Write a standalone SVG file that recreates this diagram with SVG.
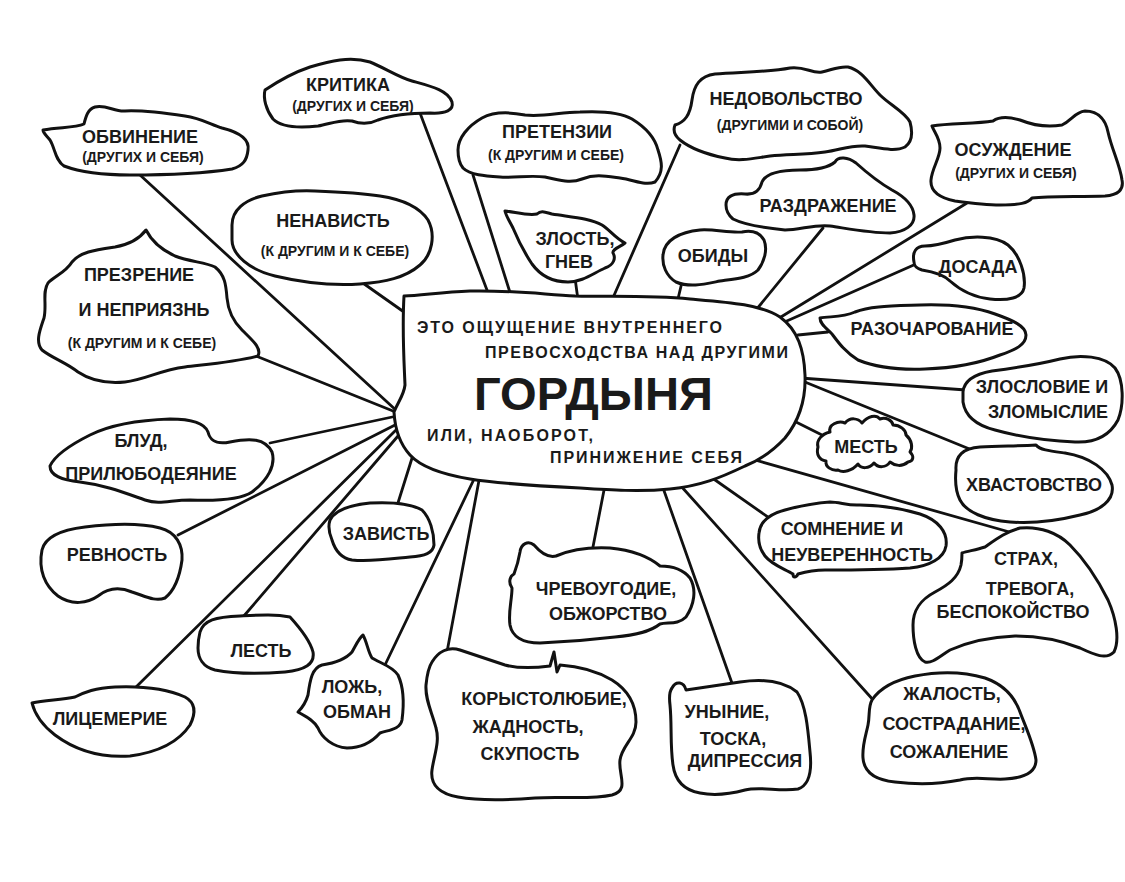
<svg xmlns="http://www.w3.org/2000/svg" width="1125" height="882" viewBox="0 0 1125 882">
<style>
.b{fill:#fff;stroke:#111;stroke-width:3;stroke-linejoin:round}
.c line{stroke:#111;stroke-width:2.8;stroke-linecap:round}
text{font-family:"Liberation Sans",Arial,sans-serif;font-weight:bold;font-size:18px;fill:#1a1a1a;text-anchor:middle}
.s{font-size:14px}
.m{font-size:16px;text-anchor:start}
.g{font-size:47px;text-anchor:start}
</style>
<rect width="1125" height="882" fill="#fff"/>
<g id="connectors" class="c">
<line x1="140" y1="175" x2="398" y2="412"/>
<line x1="420" y1="113" x2="490" y2="298"/>
<line x1="473" y1="175" x2="513" y2="302"/>
<line x1="575" y1="278" x2="578" y2="300"/>
<line x1="680" y1="145" x2="612" y2="300"/>
<line x1="682" y1="282" x2="677" y2="303"/>
<line x1="823" y1="228" x2="756" y2="310"/>
<line x1="967" y1="203" x2="776" y2="320"/>
<line x1="916" y1="264" x2="780" y2="324"/>
<line x1="798" y1="335" x2="828" y2="332"/>
<line x1="800" y1="378" x2="966" y2="390"/>
<line x1="800" y1="380" x2="972" y2="450"/>
<line x1="792" y1="420" x2="832" y2="440"/>
<line x1="755" y1="460" x2="1013" y2="533"/>
<line x1="708" y1="475" x2="775" y2="522"/>
<line x1="680" y1="485" x2="875" y2="702"/>
<line x1="662" y1="485" x2="733" y2="686"/>
<line x1="605" y1="485" x2="592" y2="552"/>
<line x1="480" y1="475" x2="447" y2="652"/>
<line x1="476" y1="475" x2="385" y2="665"/>
<line x1="413" y1="455" x2="397" y2="506"/>
<line x1="398" y1="436" x2="243" y2="617"/>
<line x1="396" y1="430" x2="133" y2="690"/>
<line x1="397" y1="424" x2="178" y2="535"/>
<line x1="397" y1="416" x2="270" y2="443"/>
<line x1="398" y1="413" x2="256" y2="356"/>
<line x1="360" y1="281" x2="404" y2="312"/>
</g>
<g id="center">
<path class="b" d="M404,296 C420,296 440,292 470,291 C510,290 540,294 575,296 C610,297 650,295 690,299 C725,302 760,304 780,317 C798,330 804,350 805,375 C806,400 798,422 785,438 C772,452 760,460 745,466 C720,478 700,486 670,489 C640,492 610,490 580,488 C540,486 500,484 470,479 C440,474 420,466 410,455 C400,444 395,430 394,412 C398,402 404,395 405,385 C404,360 402,330 404,296 Z"/>
<text class="m" x="417" y="333" textLength="305" lengthAdjust="spacing">ЭТО  ОЩУЩЕНИЕ  ВНУТРЕННЕГО</text>
<text class="m" x="485" y="358" textLength="303" lengthAdjust="spacing">ПРЕВОСХОДСТВА НАД ДРУГИМИ</text>
<text class="g" x="474" y="410" textLength="239" lengthAdjust="spacingAndGlyphs">ГОРДЫНЯ</text>
<text class="m" x="427" y="441" textLength="166" lengthAdjust="spacing">ИЛИ, НАОБОРОТ,</text>
<text class="m" x="550" y="463" textLength="192" lengthAdjust="spacing">ПРИНИЖЕНИЕ СЕБЯ</text>
</g>
<g id="n-obvinenie">
<path class="b" d="M43,130 C60,127 75,128 84,124 C86,116 88,109 95,107 C105,104 115,112 125,111 C145,110 165,113 185,116 C200,118 210,124 222,128 C238,132 250,138 248,150 C247,160 243,166 232,169 C200,174 160,175 130,175 C105,175 80,172 64,166 C55,160 55,148 50,140 C47,136 43,133 43,130 Z"/>
<text x="140" y="143">ОБВИНЕНИЕ</text>
<text class="s" x="143" y="162">(ДРУГИХ И СЕБЯ)</text>
</g>
<g id="n-kritika">
<path class="b" d="M265,90 C280,80 295,72 310,67 C330,61 350,56 370,62 C385,68 398,77 412,81 C430,86 448,90 452,102 C454,110 446,114 430,113 C410,113 392,115 378,120 C368,125 360,124 352,121 C340,119 330,124 318,126 C300,128 282,128 273,119 C266,110 263,98 265,90 Z"/>
<text x="348" y="91">КРИТИКА</text>
<text class="s" x="353" y="111">(ДРУГИХ И СЕБЯ)</text>
</g>
<g id="n-pretenzii">
<path class="b" d="M458,150 C458,138 468,126 482,118 C495,111 510,112 525,115 C545,117 560,112 580,112 C600,111 620,112 632,119 C645,127 655,138 658,150 C662,162 664,172 655,182 C645,186 635,180 620,178 C605,176 595,174 582,179 C570,184 560,180 545,177 C530,175 515,178 500,177 C485,176 470,175 463,168 C458,162 458,155 458,150 Z"/>
<text x="557" y="138">ПРЕТЕНЗИИ</text>
<text class="s" x="556" y="160">(К ДРУГИМ И СЕБЕ)</text>
</g>
<g id="n-nedovolstvo">
<path class="b" d="M675,125 C685,122 690,115 692,100 C694,85 700,76 715,74 C740,72 770,72 790,68 C805,66 812,74 822,72 C832,70 838,66 848,67 C862,70 870,85 880,95 C890,105 905,112 910,122 C913,133 912,142 905,147 C895,152 880,148 865,146 C850,145 840,150 825,152 C805,155 790,154 770,156 C755,158 740,162 725,158 C705,154 690,148 680,140 C674,135 673,130 675,125 Z"/>
<text x="786" y="105">НЕДОВОЛЬСТВО</text>
<text class="s" x="790" y="130">(ДРУГИМИ И СОБОЙ)</text>
</g>
<g id="n-osuzhdenie">
<path class="b" d="M932,126 C950,123 975,124 993,121 C1000,116 1010,117 1020,120 C1030,124 1045,128 1062,125 C1072,120 1075,112 1085,111 C1100,111 1106,122 1108,132 C1112,150 1120,165 1122,180 C1124,190 1118,195 1105,196 C1080,197 1050,196 1032,198 C1028,203 1020,205 1000,205 C985,205 970,203 955,201 C940,198 930,192 931,180 C932,168 940,158 940,148 C940,138 934,132 932,126 Z"/>
<text x="1013" y="156">ОСУЖДЕНИЕ</text>
<text class="s" x="1016" y="178">(ДРУГИХ И СЕБЯ)</text>
</g>
<g id="n-nenavist">
<path class="b" d="M232,225 C232,210 245,200 262,196 C280,192 295,190 315,191 C340,192 360,193 380,196 C400,199 418,205 428,220 C436,235 432,255 420,265 C405,278 385,282 360,284 C330,286 300,282 275,276 C250,270 232,255 232,240 Z"/>
<text x="333" y="227">НЕНАВИСТЬ</text>
<text class="s" x="335" y="256">(К ДРУГИМ И К СЕБЕ)</text>
</g>
<g id="n-zlost">
<path class="b" d="M505,211 C515,212 528,216 537,214 C541,210 545,212 552,214 C570,217 590,218 602,225 C610,230 615,238 625,243 C620,247 612,249 613,253 C616,258 614,265 605,268 C592,274 582,282 568,282 C552,282 540,275 532,264 C524,252 518,240 513,228 C510,222 506,216 505,211 Z"/>
<text x="575" y="245">ЗЛОСТЬ,</text>
<text x="569" y="268">ГНЕВ</text>
</g>
<g id="n-obidy">
<path class="b" d="M663,255 C664,240 680,232 700,230 C715,229 728,233 742,232 C752,230 760,233 764,240 C768,250 764,262 758,270 C750,278 735,279 720,281 C705,284 690,288 676,282 C666,276 662,265 663,255 Z"/>
<text x="713" y="262">ОБИДЫ</text>
</g>
<g id="n-razdrazhenie">
<path class="b" d="M726,205 C726,197 732,193 745,194 C755,195 760,190 762,182 C766,173 780,170 800,170 C815,170 828,168 835,162 C838,156 848,157 856,163 C866,172 878,182 892,190 C905,197 913,205 914,215 C915,225 905,232 890,233 C870,233 850,229 830,226 C815,224 800,230 785,230 C765,228 745,225 733,219 C727,214 726,210 726,205 Z"/>
<text x="828" y="212">РАЗДРАЖЕНИЕ</text>
</g>
<g id="n-dosada">
<path class="b" d="M914,262 C912,252 916,246 925,246 C935,246 942,244 955,240 C970,236 995,235 1008,245 C1020,255 1026,275 1024,288 C1022,298 1008,301 990,299 C972,297 960,290 950,281 C944,275 935,272 922,270 C916,268 914,266 914,262 Z"/>
<text x="978" y="273">ДОСАДА</text>
</g>
<g id="n-razocharovanie">
<path class="b" d="M820,318 C830,316 842,318 855,312 C870,306 890,306 920,305 C950,304 975,307 995,314 C1012,320 1026,326 1026,335 C1026,345 1015,350 1000,355 C980,363 955,368 925,369 C900,370 875,367 858,360 C845,352 838,342 832,334 C826,328 820,324 820,318 Z"/>
<text x="932" y="335">РАЗОЧАРОВАНИЕ</text>
</g>
<g id="n-zloslovie">
<path class="b" d="M963,392 C964,380 975,374 992,371 C1015,368 1040,364 1060,359 C1080,354 1105,356 1115,368 C1124,380 1124,405 1118,420 C1110,435 1095,443 1075,442 C1050,441 1020,437 995,430 C975,425 965,415 963,402 Z"/>
<text x="1042" y="393">ЗЛОСЛОВИЕ И</text>
<text x="1048" y="418">ЗЛОМЫСЛИЕ</text>
</g>
<g id="n-mest">
<path class="b" d="M818,447 C816,440 822,434 830,432 C828,425 838,420 845,423 C850,417 858,418 862,423 C868,416 876,414 880,419 C886,417 892,420 893,425 C900,425 906,430 906,435 C912,440 913,448 910,452 C914,456 914,461 908,462 C902,467 895,466 890,462 C886,468 878,468 874,463 C869,469 861,469 858,464 C852,471 843,473 838,470 C832,471 825,467 826,461 C819,460 816,454 818,447 Z"/>
<text x="866" y="453">МЕСТЬ</text>
</g>
<g id="n-hvastovstvo">
<path class="b" d="M956,470 C955,456 963,448 980,447 C1000,446 1020,446 1036,445 C1040,450 1050,451 1065,453 C1090,457 1108,470 1112,485 C1115,500 1100,511 1080,515 C1060,520 1035,524 1010,522 C985,520 966,512 960,500 C955,490 955,480 956,470 Z"/>
<text x="1034" y="491">ХВАСТОВСТВО</text>
</g>
<g id="n-somnenie">
<path class="b" d="M759,533 C760,522 770,514 785,510 C800,506 815,503 830,502 C840,502 848,506 860,505 C880,505 900,508 920,514 C938,520 948,532 946,546 C944,558 930,566 910,568 C880,570 850,570 825,570 C812,570 805,572 798,574 C796,578 793,578 793,574 C785,569 772,565 765,556 C759,548 758,540 759,533 Z"/>
<text x="842" y="535">СОМНЕНИЕ И</text>
<text x="852" y="561">НЕУВЕРЕННОСТЬ</text>
</g>
<g id="n-strah">
<path class="b" d="M962,553 C968,551 976,550 985,547 C995,540 1005,532 1020,528 C1040,526 1058,533 1070,545 C1085,560 1098,580 1108,600 C1116,618 1120,640 1114,652 C1106,660 1095,655 1080,648 C1060,640 1040,636 1015,636 C990,637 968,642 950,650 C940,656 932,664 925,662 C916,658 913,640 913,625 C913,610 920,600 935,592 C948,585 958,578 961,565 C962,560 962,556 962,553 Z"/>
<text x="1026" y="565">СТРАХ,</text>
<text x="1030" y="595">ТРЕВОГА,</text>
<text x="1013" y="618">БЕСПОКОЙСТВО</text>
</g>
<g id="n-zhalost">
<path class="b" d="M872,700 C880,688 895,680 915,676 C940,671 965,672 985,678 C1005,685 1015,698 1020,712 C1026,728 1034,745 1036,760 C1036,772 1025,778 1005,779 C990,780 975,776 960,780 C940,784 920,785 895,782 C875,780 864,772 863,758 C862,745 866,735 868,725 C870,715 868,707 872,700 Z"/>
<text x="952" y="700">ЖАЛОСТЬ,</text>
<text x="954" y="730">СОСТРАДАНИЕ,</text>
<text x="949" y="758">СОЖАЛЕНИЕ</text>
</g>
<g id="n-unynie">
<path class="b" d="M672,688 C676,680 684,682 686,690 C700,688 720,685 740,682 C760,679 782,680 797,692 C806,705 808,730 810,752 C812,770 810,785 798,789 C780,792 760,786 745,790 C730,794 715,796 700,793 C683,790 675,780 673,765 C670,745 672,725 670,705 C669,697 669,692 672,688 Z"/>
<text x="727" y="718">УНЫНИЕ,</text>
<text x="733" y="745">ТОСКА,</text>
<text x="745" y="767">ДИПРЕССИЯ</text>
</g>
<g id="n-korystolyubie">
<path class="b" d="M432,662 C438,652 448,646 460,650 C475,655 490,660 505,665 C520,669 535,668 550,666 L554,652 L557,672 L560,665 C575,666 595,670 612,680 C628,690 636,705 636,722 C636,738 622,745 620,760 C618,775 630,790 612,795 C590,800 560,796 535,798 C510,800 480,801 458,797 C440,794 430,785 432,770 C434,755 440,742 436,728 C432,712 425,700 426,685 C427,675 428,668 432,662 Z"/>
<text x="544" y="705">КОРЫСТОЛЮБИЕ,</text>
<text x="528" y="733">ЖАДНОСТЬ,</text>
<text x="530" y="760">СКУПОСТЬ</text>
</g>
<g id="n-chrevougodie">
<path class="b" d="M520,552 C521,544 528,540 534,545 C540,552 548,558 556,556 C570,550 590,547 610,548 C630,550 648,556 660,566 C670,566 682,568 690,578 C697,590 694,605 686,617 C678,625 668,622 660,624 C650,632 635,635 615,637 C590,640 565,642 540,643 C522,643 512,636 510,625 C508,612 512,600 512,588 C508,582 510,576 514,574 C517,566 519,558 520,552 Z"/>
<text x="606" y="595">ЧРЕВОУГОДИЕ,</text>
<text x="608" y="620">ОБЖОРСТВО</text>
</g>
<g id="n-zavist">
<path class="b" d="M330,520 C335,510 350,505 370,503 C390,502 410,503 422,510 C430,518 434,532 434,545 C433,553 425,556 410,557 C390,559 370,562 352,560 C340,558 335,550 332,540 C329,533 328,526 330,520 Z"/>
<text x="386" y="540">ЗАВИСТЬ</text>
</g>
<g id="n-lozh">
<path class="b" d="M363,635 C367,642 368,652 372,658 C380,663 392,666 398,675 C404,688 404,705 402,720 C400,730 388,730 380,733 C372,742 360,748 347,748 C333,747 322,738 318,728 C314,720 305,716 298,712 C303,707 306,702 308,695 C310,680 312,668 322,665 C335,663 345,660 352,652 C356,645 359,638 363,635 Z"/>
<text x="352" y="693">ЛОЖЬ,</text>
<text x="357" y="718">ОБМАН</text>
</g>
<g id="n-lest">
<path class="b" d="M200,632 C204,620 215,617 240,616 C260,615 275,614 290,617 C300,628 310,640 313,652 C315,664 305,670 285,672 C260,674 235,674 215,670 C203,667 198,658 198,648 C198,640 199,636 200,632 Z"/>
<text x="261" y="657">ЛЕСТЬ</text>
</g>
<g id="n-licemerie">
<path class="b" d="M32,703 C45,700 60,700 75,697 C85,692 95,688 115,687 C140,686 165,688 185,697 C196,703 196,713 190,725 C180,740 160,752 130,756 C100,758 75,750 55,735 C42,725 35,715 32,703 Z"/>
<text x="110" y="725">ЛИЦЕМЕРИЕ</text>
</g>
<g id="n-revnost">
<path class="b" d="M42,550 C45,537 60,530 85,527 C110,524 140,523 160,528 C176,532 183,545 182,560 C180,575 175,590 165,598 C155,602 145,596 132,592 C120,587 108,588 98,596 C88,603 72,606 58,596 C45,586 38,570 42,550 Z"/>
<text x="117" y="561">РЕВНОСТЬ</text>
</g>
<g id="n-blud">
<path class="b" d="M50,466 C55,455 70,445 90,435 C110,425 140,420 170,419 C195,419 205,424 208,432 C210,440 215,445 230,442 C250,438 265,438 272,452 C276,465 268,480 252,492 C240,500 215,501 190,500 C170,500 160,505 145,500 C125,493 105,485 80,482 C62,480 50,476 50,466 Z"/>
<text x="141" y="447">БЛУД,</text>
<text x="151" y="480">ПРИЛЮБОДЕЯНИЕ</text>
</g>
<g id="n-prezrenie">
<path class="b" d="M146,230 C140,238 132,244 115,247 C95,250 80,252 72,262 C66,272 55,276 48,283 C42,292 47,305 44,318 C40,330 35,342 42,350 C52,358 65,362 78,372 C90,380 105,384 125,382 C145,380 160,370 185,367 C210,364 235,362 258,356 C262,348 252,340 242,330 C232,320 228,310 227,298 C226,285 225,275 215,267 C205,262 190,262 175,256 C162,250 152,242 146,230 Z"/>
<text x="139" y="281">ПРЕЗРЕНИЕ</text>
<text x="144" y="316">И НЕПРИЯЗНЬ</text>
<text class="s" x="142" y="348">(К ДРУГИМ И К СЕБЕ)</text>
</g>
</svg>
